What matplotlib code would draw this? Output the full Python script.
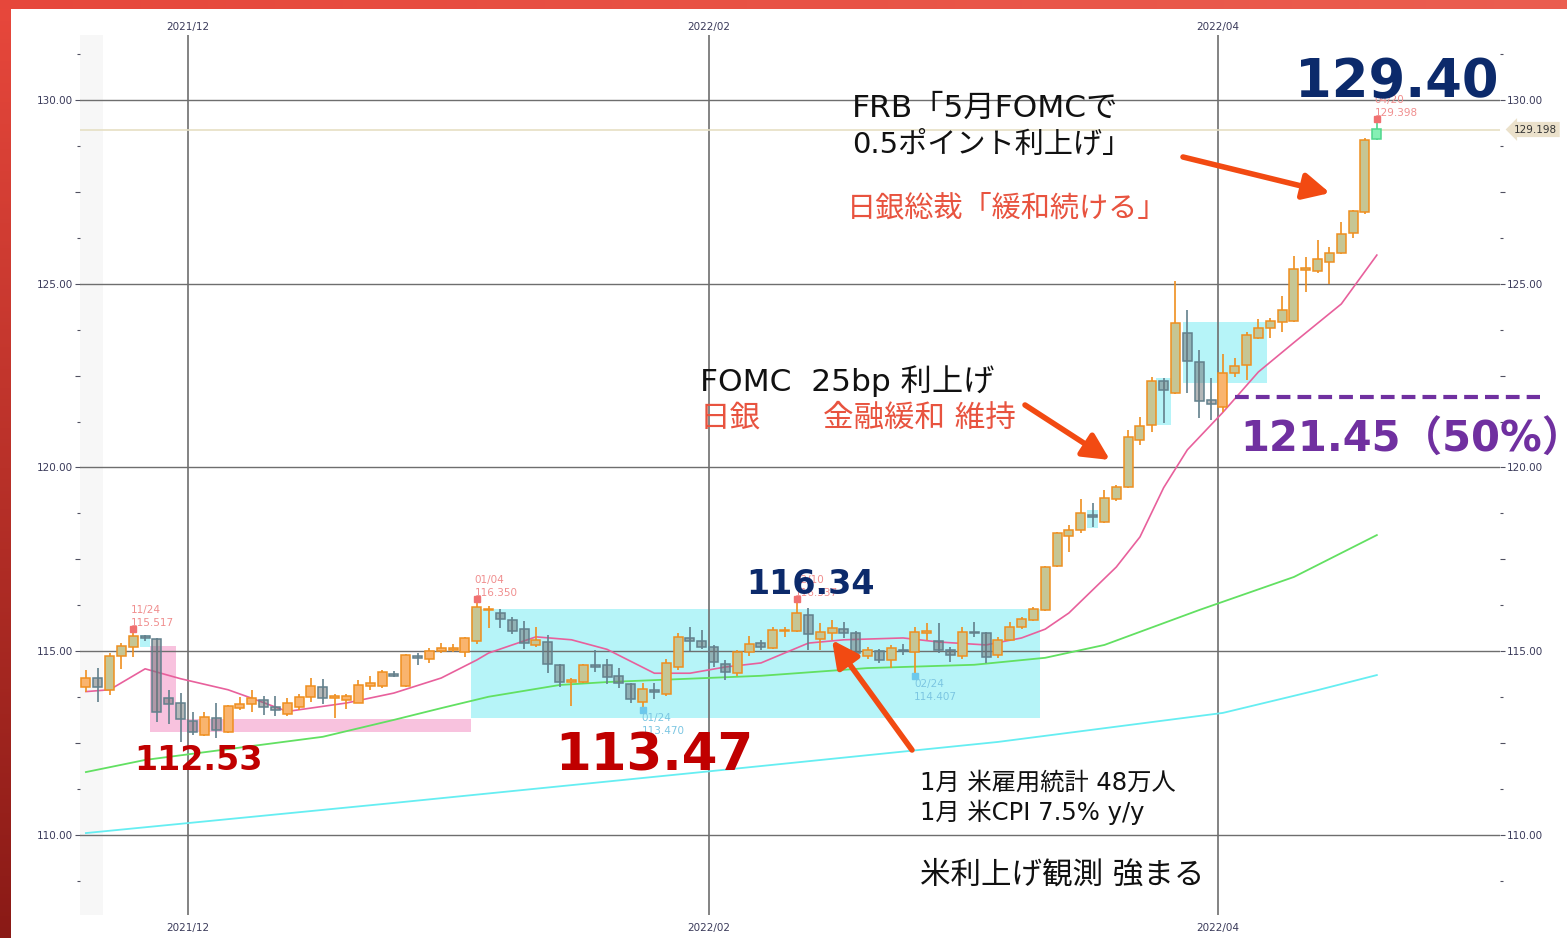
import numpy as np
import matplotlib
matplotlib.use('Agg')
import matplotlib.pyplot as plt
from matplotlib.ticker import MultipleLocator, FuncFormatter
from matplotlib.lines import Line2D
from matplotlib.patches import Rectangle
import matplotlib.transforms as mtransforms

W, H = 1567, 938
JP = ['DejaVu Sans', 'Noto Sans CJK JP']
NUM = ['DejaVu Sans', 'Noto Sans CJK JP']

# ---------------- data (USD/JPY daily, 2021/11/18 - 2022/04/20) ----------------
opens = [114.03, 114.27, 113.95, 114.87, 115.11, 115.40, 115.33, 113.73, 113.59, 113.10,
         112.72, 113.18, 112.80, 113.46, 113.56, 113.67, 113.48, 113.30, 113.48, 113.76,
         114.03, 113.73, 113.68, 113.59, 114.05, 114.05, 114.38, 114.05, 114.87, 114.80,
         115.00, 115.03, 114.98, 115.27, 116.11, 116.03, 115.85, 115.60, 115.16, 115.25,
         114.62, 114.17, 114.16, 114.62, 114.62, 114.33, 114.11, 113.62, 113.92, 113.84,
         114.57, 115.35, 115.27, 115.11, 114.65, 114.41, 114.98, 115.22, 115.08, 115.54,
         115.55, 115.98, 115.33, 115.49, 115.60, 115.49, 114.87, 115.00, 114.76, 115.03,
         114.98, 115.50, 115.27, 115.03, 114.87, 115.52, 115.49, 114.90, 115.30, 115.65,
         115.85, 116.11, 117.33, 118.13, 118.30, 118.70, 118.51, 119.15, 119.47, 120.75,
         121.16, 122.35, 122.03, 123.66, 122.87, 121.84, 121.65, 122.57, 122.79, 123.52,
         123.79, 123.96, 123.99, 125.38, 125.35, 125.60, 125.84, 126.38, 126.95, 128.93]
highs = [114.49, 114.54, 114.95, 115.22, 115.517, 115.45, 115.37, 113.95, 113.86, 113.35,
         113.35, 113.59, 113.54, 113.75, 113.95, 113.78, 113.78, 113.73, 113.84, 114.27,
         114.24, 113.84, 113.84, 114.22, 114.33, 114.49, 114.46, 114.92, 114.95, 115.08,
         115.22, 115.20, 115.38, 116.35, 116.24, 116.16, 115.92, 115.82, 115.65, 115.44,
         114.65, 114.27, 114.65, 115.03, 114.79, 114.54, 114.13, 114.13, 114.13, 114.79,
         115.50, 115.65, 115.57, 115.16, 114.76, 115.03, 115.41, 115.30, 115.65, 115.65,
         116.337, 116.17, 115.76, 115.85, 115.79, 115.54, 115.11, 115.06, 115.16, 115.19,
         115.65, 115.76, 115.76, 115.11, 115.65, 115.79, 115.52, 115.38, 115.79, 115.93,
         116.20, 117.33, 118.25, 118.43, 119.14, 119.03, 119.38, 119.52, 121.02, 121.37,
         122.45, 122.43, 125.07, 124.29, 123.20, 122.43, 123.10, 122.98, 123.68, 124.05,
         124.07, 124.67, 125.75, 125.73, 126.20, 126.00, 126.68, 127.00, 128.96, 129.398]
lows = [113.89, 113.62, 113.82, 114.52, 114.85, 115.27, 113.08, 113.02, 112.53, 112.72,
        112.70, 112.64, 112.78, 113.40, 113.35, 113.27, 113.24, 113.24, 113.40, 113.62,
        113.57, 113.18, 113.43, 113.59, 113.95, 114.00, 114.30, 114.03, 114.62, 114.68,
        114.95, 114.97, 114.85, 115.20, 115.63, 115.63, 115.48, 115.06, 115.12, 114.40,
        114.03, 113.51, 114.13, 114.43, 114.10, 114.00, 113.60, 113.47, 113.70, 113.78,
        114.49, 115.00, 115.05, 114.57, 114.21, 114.33, 114.87, 115.03, 115.06, 115.38,
        115.52, 115.03, 115.03, 115.30, 115.35, 114.87, 114.79, 114.68, 114.54, 114.90,
        114.407, 115.30, 114.95, 114.71, 114.79, 115.38, 114.68, 114.82, 115.27, 115.60,
        115.82, 116.10, 117.30, 117.70, 118.22, 118.38, 118.49, 119.10, 119.45, 120.60,
        120.97, 121.20, 122.00, 122.03, 121.35, 121.29, 121.50, 122.46, 122.38, 123.50,
        123.52, 123.70, 123.95, 124.78, 125.30, 125.00, 125.80, 126.25, 126.90, 128.90]
closes = [114.27, 114.03, 114.87, 115.14, 115.41, 115.35, 113.35, 113.56, 113.15, 112.80,
          113.21, 112.86, 113.51, 113.56, 113.73, 113.48, 113.40, 113.59, 113.76, 114.05,
          113.73, 113.78, 113.78, 114.08, 114.14, 114.43, 114.33, 114.90, 114.82, 115.00,
          115.08, 115.08, 115.35, 116.19, 116.14, 115.87, 115.55, 115.22, 115.30, 114.65,
          114.16, 114.19, 114.62, 114.57, 114.30, 114.14, 113.70, 113.97, 113.89, 114.68,
          115.38, 115.27, 115.11, 114.71, 114.43, 114.98, 115.19, 115.11, 115.57, 115.57,
          116.03, 115.46, 115.52, 115.63, 115.49, 114.95, 115.03, 114.76, 115.08, 115.00,
          115.52, 115.52, 115.03, 114.90, 115.52, 115.49, 114.84, 115.30, 115.65, 115.87,
          116.14, 117.30, 118.22, 118.30, 118.76, 118.65, 119.17, 119.46, 120.83, 121.13,
          122.35, 122.10, 123.93, 122.90, 121.81, 121.73, 122.57, 122.76, 123.60, 123.79,
          123.98, 124.29, 125.40, 125.43, 125.67, 125.84, 126.35, 126.98, 128.91, 129.20]

# moving averages (candle index, value)
ma_short_idx = [0, 2, 5, 8, 12, 14, 17, 22, 26, 30, 33, 34, 38, 41, 44, 48, 51, 54, 57, 61,
                64, 69, 72, 76, 79, 81, 83, 87, 89, 91, 93, 96, 99, 102, 106, 109]
ma_short_val = [113.90, 113.95, 114.52, 114.25, 113.95, 113.72, 113.36, 113.59, 113.86, 114.27,
                114.76, 114.95, 115.39, 115.31, 115.05, 114.40, 114.40, 114.57, 114.68, 115.22,
                115.31, 115.36, 115.25, 115.17, 115.36, 115.60, 116.04, 117.29, 118.11, 119.45,
                120.48, 121.50, 122.60, 123.40, 124.45, 125.78]
ma_mid_idx = [0, 5, 20, 26, 30, 34, 40, 44, 57, 66, 75, 81, 86, 94, 102, 109]
ma_mid_val = [111.71, 112.04, 112.67, 113.13, 113.45, 113.76, 114.08, 114.16, 114.33, 114.54,
              114.63, 114.82, 115.17, 116.12, 117.02, 118.16]
ma_long_idx = [0, 26, 52, 77, 96, 104, 109]
ma_long_val = [110.05, 110.87, 111.71, 112.53, 113.32, 113.94, 114.35]

orange_fill_idx = [0, 10, 12, 13, 14, 17, 18, 19, 21, 22, 23, 24, 25, 27, 29, 30, 31, 32, 96]

date_labels = ['2021/12', '2022/02', '2022/04']
date_idx = [9, 53, 96]

mark_idx = [4, 33, 47, 60, 70, 109]
mark_date = ['11/24', '01/04', '01/24', '02/10', '02/24', '04/20']
mark_val = ['115.517', '116.350', '113.470', '116.337', '114.407', '129.398']
mark_kind = ['high', 'high', 'low', 'high', 'low', 'high']

current_price = 129.198
y_major = [110, 115, 120, 125, 130]

# highlight boxes: (x0, x1, y0, y1) in candle index / price
cyan_boxes = [(32.55, 80.55, 113.18, 116.15), (92.6, 99.7, 122.30, 123.96),
              (4.55, 5.45, 115.12, 115.44), (84.55, 85.45, 118.35, 118.84),
              (90.35, 91.65, 121.16, 122.44)]
pink_boxes = [(5.45, 7.6, 112.80, 115.14), (7.6, 32.5, 112.80, 113.16)]

# ---------------- figure ----------------
fig = plt.figure(figsize=(W / 100, H / 100), dpi=100)
fig.patch.set_facecolor('white')
ax = fig.add_axes([80 / W, 1 - 915 / H, 1420 / W, 880 / H])
ax.set_xlim(-0.5, 119.4)
ax.set_ylim(107.82, 131.77)
ax.set_facecolor('white')
for s in ax.spines.values():
    s.set_visible(False)

ax.axvspan(-0.5, 1.4, color='#f7f7f7', zorder=0, lw=0)

for (x0, x1, y0, y1) in cyan_boxes:
    ax.add_patch(Rectangle((x0, y0), x1 - x0, y1 - y0, fc='#b6f4f8', ec='none', zorder=1))
for (x0, x1, y0, y1) in pink_boxes:
    ax.add_patch(Rectangle((x0, y0), x1 - x0, y1 - y0, fc='#f8c2de', ec='none', zorder=1))

for v in y_major:
    ax.axhline(v, color='#6e6e6e', lw=1.0, zorder=2)
xpos = np.array(date_idx) - 0.4
for xv in xpos:
    ax.axvline(xv, color='#6e6e6e', lw=1.2, zorder=2)
ax.axhline(current_price, color='#e6dfc4', lw=1.2, zorder=2)

# moving averages
ax.plot(ma_long_idx, ma_long_val, color='#66eef2', lw=1.3, zorder=2.5)
ax.plot(ma_mid_idx, ma_mid_val, color='#62e062', lw=1.3, zorder=2.5)
ax.plot(ma_short_idx, ma_short_val, color='#e8609c', lw=1.2, zorder=2.5)

# candles
o = np.array(opens); h = np.array(highs); l = np.array(lows); c = np.array(closes)
n = len(o)
x = np.arange(n)
fills, edges = [], []
for i in range(n):
    if i == n - 1:
        fills.append('#86f0b4'); edges.append('#4fd68c')
    elif c[i] >= o[i]:
        fills.append('#f9b46e' if i in orange_fill_idx else '#c6c694')
        edges.append('#ef8f1f')
    else:
        fills.append((0.42, 0.44, 0.45, 0.5))
        edges.append('#62808c')
ax.vlines(x, l, h, colors=edges, lw=1.2, zorder=3)
bottoms = np.minimum(o, c)
heights = np.maximum(np.abs(c - o), 0.04)
ax.bar(x, heights, bottom=bottoms, width=0.76, color=fills, edgecolor=edges,
       linewidth=1.1, zorder=4)

# high / low markers and labels
for i, d, v, k in zip(mark_idx, mark_date, mark_val, mark_kind):
    if k == 'high':
        yv = highs[i]
        tr = mtransforms.offset_copy(ax.transData, fig=fig, x=0, y=3, units='dots')
        ax.plot(i, yv, 's', ms=4.5, color='#f07070', transform=tr, zorder=5)
        col = '#f08e8e'
        ax.annotate(d, (i, yv), xytext=(-2, 22), textcoords='offset pixels',
                    fontsize=7.5, color=col, ha='left', va='center', zorder=5)
        ax.annotate(v, (i, yv), xytext=(-2, 9), textcoords='offset pixels',
                    fontsize=7.5, color=col, ha='left', va='center', zorder=5)
    else:
        yv = lows[i]
        tr = mtransforms.offset_copy(ax.transData, fig=fig, x=0, y=-3, units='dots')
        ax.plot(i, yv, 's', ms=4.5, color='#6cc8ec', transform=tr, zorder=5)
        col = '#7cc6e2'
        ax.annotate(d, (i, yv), xytext=(-1, -11), textcoords='offset pixels',
                    fontsize=7.5, color=col, ha='left', va='center', zorder=5)
        ax.annotate(v, (i, yv), xytext=(-1, -24), textcoords='offset pixels',
                    fontsize=7.5, color=col, ha='left', va='center', zorder=5)

# axes ticks
ax.yaxis.set_major_locator(MultipleLocator(2.5))
ax.yaxis.set_minor_locator(MultipleLocator(1.25))
ax.yaxis.set_major_formatter(FuncFormatter(
    lambda v, p: f'{v:.2f}' if abs(v / 5 - round(v / 5)) < 1e-6 else ''))
ax.tick_params(axis='y', which='major', left=True, right=True, labelleft=True,
               labelright=True, length=3.5, width=0.8, color='#505060',
               labelsize=7.5, labelcolor='#3a3a5a', pad=1.5)
ax.tick_params(axis='y', which='minor', left=True, right=True, length=2.5,
               width=0.8, color='#505060')
ax.set_xticks(xpos)
ax.set_xticklabels(date_labels)
ax.tick_params(axis='x', top=False, bottom=True, labeltop=False, labelbottom=True,
               length=0, labelsize=7.5, labelcolor='#3a3a5a', pad=6)
ttr = mtransforms.blended_transform_factory(ax.transData, ax.transAxes)
for xv, lab in zip(xpos, date_labels):
    ax.text(xv, 1 + 8 / 880, lab, transform=ttr, ha='center', va='center',
            fontsize=7.5, color='#3a3a5a', clip_on=False)

# current price tag
btr = mtransforms.blended_transform_factory(ax.transAxes, ax.transData)
ax.text(1.0 + 14 / 1420, current_price, f'{current_price:.3f}', transform=btr,
        ha='left', va='center', fontsize=7.5, color='#333333', zorder=6, clip_on=False,
        bbox=dict(boxstyle='larrow,pad=0.25', fc='#ebe1cb', ec='none'))

# ---------------- annotations ----------------
def fx(px):
    return px / W

def fy(py):
    return 1 - py / H

fig.text(fx(852), fy(108), 'FRB「5月FOMCで', fontsize=22.5, color='#111111', family=JP, va='center')
fig.text(fx(852), fy(145), '0.5ポイント利上げ」', fontsize=21, color='#111111', family=JP, va='center')
fig.text(fx(847), fy(208), '日銀総裁「緩和続ける」', fontsize=21, color='#e8533f', family=JP, va='center')
fig.text(fx(700), fy(381), 'FOMC  25bp 利上げ', fontsize=22.5, color='#111111', family=JP, va='center')
fig.text(fx(700), fy(418), '日銀', fontsize=22, color='#e8533f', family=JP, va='center')
fig.text(fx(823), fy(418), '金融緩和 維持', fontsize=22, color='#e8533f', family=JP, va='center')
fig.text(fx(920), fy(783), '1月 米雇用統計 48万人', fontsize=17.5, color='#111111', family=JP, va='center')
fig.text(fx(920), fy(812), '1月 米CPI 7.5% y/y', fontsize=17.5, color='#111111', family=JP, va='center')
fig.text(fx(920), fy(875), '米利上げ観測 強まる', fontsize=22, color='#111111', family=JP, va='center')

fig.text(fx(1397), fy(82), '129.40', fontsize=38, fontweight='bold', color='#0c2a6b',
         family=NUM, ha='center', va='center', zorder=10)
fig.text(fx(810), fy(584), '116.34', fontsize=24, fontweight='bold', color='#0c2a6b',
         family=NUM, ha='center', va='center', zorder=10)
fig.text(fx(199), fy(760), '112.53', fontsize=24, fontweight='bold', color='#c00000',
         family=NUM, ha='center', va='center', zorder=10)
fig.text(fx(654), fy(756), '113.47', fontsize=37, fontweight='bold', color='#c00000',
         family=NUM, ha='center', va='center', zorder=10)
fig.text(fx(1240), fy(440), '121.45（50%）', fontsize=30, fontweight='bold', color='#7030a0',
         family=NUM, ha='left', va='center', zorder=10)

fig.add_artist(Line2D([fx(1235), fx(1540)], [fy(397), fy(397)], transform=fig.transFigure,
                      color='#7030a0', lw=3, dashes=(3.3, 1.7), zorder=10))

arrow_col = '#f24a12'
for (tx, ty, hx, hy) in [(1183, 157, 1330, 193), (1025, 405, 1110, 460), (912, 750, 832, 640)]:
    ax.annotate('', xy=(hx, H - hy), xytext=(tx, H - ty), xycoords='figure pixels',
                textcoords='figure pixels',
                arrowprops=dict(arrowstyle='-|>,head_length=1.6,head_width=0.8', lw=4,
                                color=arrow_col, shrinkA=0, shrinkB=0), zorder=10)

# ---------------- red frame ----------------
def hex2rgb(hx):
    hx = hx.lstrip('#')
    return np.array([int(hx[k:k + 2], 16) / 255 for k in (0, 2, 4)])

top_c, bot_c = hex2rgb('#e8483c'), hex2rgb('#8a1a16')
t = np.linspace(0, 1, 256)[:, None]
grad_v = (top_c[None, :] * (1 - t) + bot_c[None, :] * t)[:, None, :]
lax = fig.add_axes([0, 0, 11 / W, 1])
lax.imshow(grad_v, aspect='auto', extent=(0, 1, 0, 1))
lax.axis('off')
lc, rc = hex2rgb('#e6473b'), hex2rgb('#eb5e50')
grad_h = (lc[None, :] * (1 - t) + rc[None, :] * t)[None, :, :]
tax = fig.add_axes([0, 1 - 9 / H, 1, 9 / H])
tax.imshow(grad_h, aspect='auto', extent=(0, 1, 0, 1))
tax.axis('off')

fig.savefig('out.png', dpi=100, facecolor='white')
